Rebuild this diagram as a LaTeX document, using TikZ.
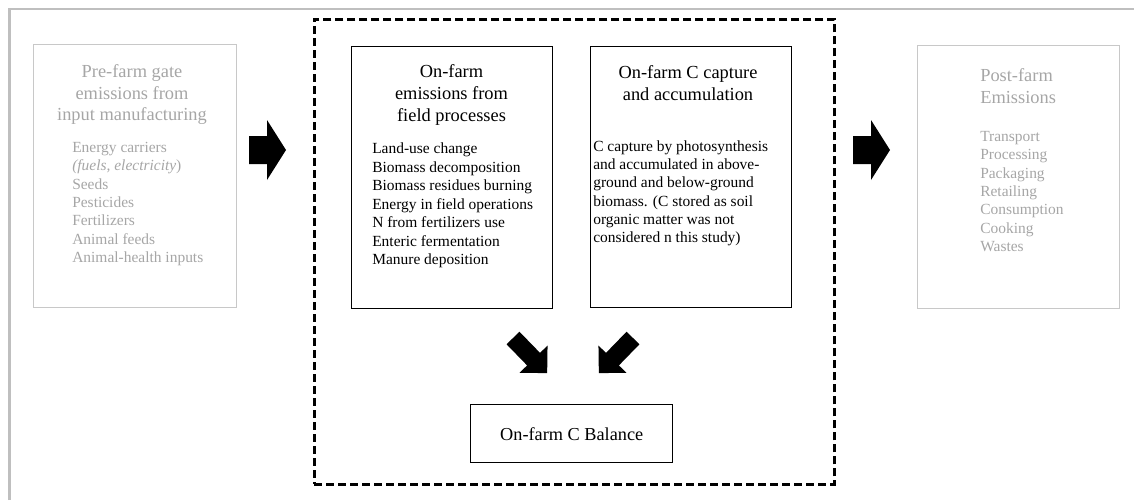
\documentclass[tikz,border=0pt]{standalone}
\usepackage{fontspec}
\setmainfont{Liberation Serif}
\definecolor{framegray}{HTML}{BFBFBF}
\definecolor{boxgray}{HTML}{C8C8C8}
\definecolor{txtgray}{HTML}{A6A6A6}
\begin{document}
\begin{tikzpicture}[x=0.75pt,y=-0.75pt,
  gbox/.style={draw=boxgray, line width=1.1pt, inner sep=0pt, anchor=north west},
  bbox/.style={draw=black, line width=1.1pt, inner sep=0pt, anchor=north west},
  dbox/.style={draw=black, line width=1.9pt, dash pattern=on 6pt off 3pt, inner sep=0pt, anchor=north west},
  ttl/.style={inner sep=0pt, font=\fontsize{13.8}{16}\selectfont},
  bdy/.style={inner sep=0pt, anchor=base west, font=\fontsize{11.6}{13.7}\selectfont},
  pics/harrow/.style={code={\fill[black] (0,-14) -- (18,-14) -- (18,-30) -- (37,0) -- (18,30) -- (18,14) -- (0,14) -- cycle;}},
  pics/darrow/.style={code={\fill[black] (0,-9) -- (29.5,-9) -- (29.5,-19.5) -- (49,0) -- (29.5,19.5) -- (29.5,9) -- (0,9) -- cycle;}}
]
\useasboundingbox (0,0) rectangle (1134,500);
% outer frame (top and left edges visible)
\coordinate (frameBL) at (9.5,500);
\coordinate (frameTL) at (9.5,9);
\coordinate (frameTR) at (1134,9);
\draw[framegray, line width=2.2pt] (frameBL) -- (frameTL) -- (frameTR);

% boxes
\node[gbox, minimum width=152.25pt, minimum height=197.25pt] (pre) at (33,44) {};
\node[dbox, minimum width=390pt, minimum height=348.75pt] (farm) at (313,18) {};
\node[bbox, minimum width=150.75pt, minimum height=196.5pt] (emis) at (351,46) {};
\node[bbox, minimum width=150.75pt, minimum height=195.75pt] (capt) at (590,46) {};
\node[bbox, minimum width=151.5pt, minimum height=43.5pt] (bal) at (470,404) {};
\node[gbox, minimum width=151.5pt, minimum height=197.25pt] (post) at (917,45) {};

% pre-farm text
\foreach \t [count=\i from 0] in {Pre-farm gate, emissions from, input manufacturing}
  \node[ttl, anchor=base, text=txtgray] (pret-\i) at (132,{77.5+21.7*\i}) {\t};
\foreach \t [count=\i from 0] in {Energy carriers, {\textit{(fuels, electricity})}, Seeds, Pesticides, Fertilizers, Animal feeds, Animal-health inputs}
  \node[bdy, text=txtgray] (preb-\i) at (72,{152.6+18.3*\i}) {\t};

% on-farm emissions text
\foreach \t [count=\i from 0] in {On-farm, emissions from, field processes}
  \node[ttl, anchor=base] (emist-\i) at (451.5,{77.5+22*\i}) {\t};
\foreach \t [count=\i from 0] in {Land-use change, Biomass decomposition, Biomass residues burning, Energy in field operations, N from fertilizers use, Enteric fermentation, Manure deposition}
  \node[bdy] (emisb-\i) at (372,{153.6+18.5*\i}) {\t};

% capture text
\foreach \t [count=\i from 0] in {On-farm C capture, and accumulation}
  \node[ttl, anchor=base] (captt-\i) at (688,{78.5+22*\i}) {\t};
\foreach \t [count=\i from 0] in {C capture by photosynthesis, and accumulated in above-, ground and below-ground, biomass. (C stored as soil, organic matter was not, considered n this study)}
  \node[bdy] (captb-\i) at (593,{151.3+18.3*\i}) {\t};

% balance text
\node[inner sep=0pt, font=\fontsize{13.7}{16}\selectfont] (balt) at (bal.center) {On-farm C Balance};

% post-farm text
\foreach \t [count=\i from 0] in {Post-farm, Emissions}
  \node[ttl, anchor=base west, text=txtgray] (postt-\i) at (980,{81.5+21.7*\i}) {\t};
\foreach \t [count=\i from 0] in {Transport, Processing, Packaging, Retailing, Consumption, Cooking, Wastes}
  \node[bdy, text=txtgray] (postb-\i) at (980,{141.6+18.3*\i}) {\t};

% block arrows
\coordinate (a1) at (249,150);
\coordinate (a2) at (853,150);
\coordinate (a3) at (513,338);
\coordinate (a4) at (633,338);
\pic at (a1) {harrow};
\pic at (a2) {harrow};
\pic[rotate=-45.8] at (a3) {darrow};
\pic[rotate=-134.2] at (a4) {darrow};
\end{tikzpicture}
\end{document}
